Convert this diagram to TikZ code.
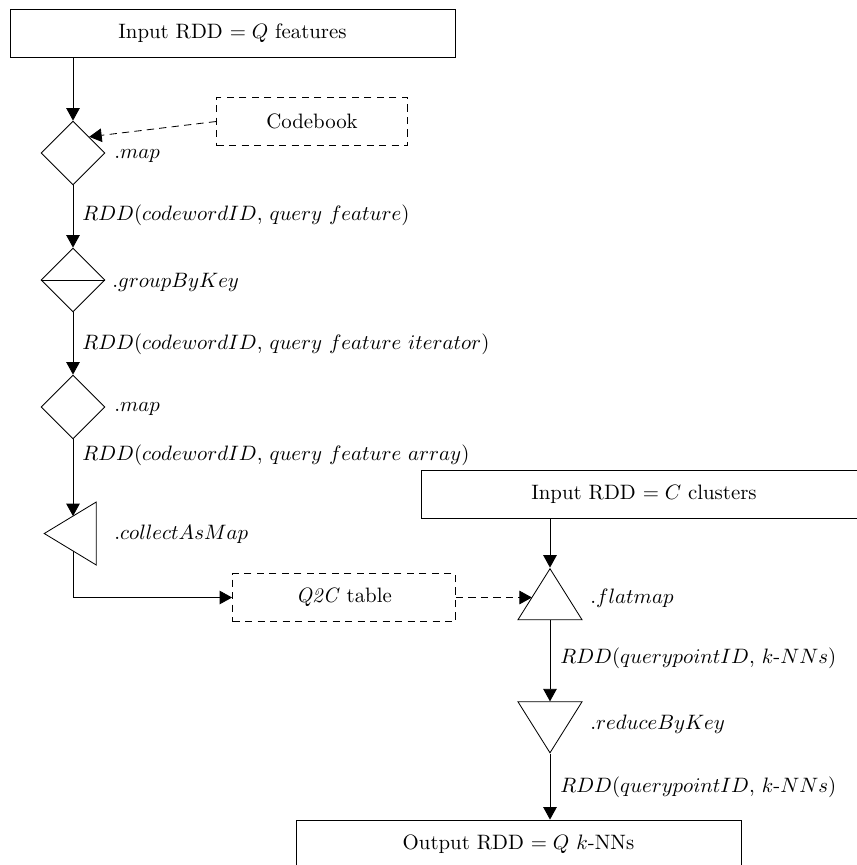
\documentclass[tikz,border=0pt]{standalone}
\usetikzlibrary{shapes.geometric,arrows.meta,intersections}
\newcommand{\pxu}{0.48pt}
\begin{document}
\begin{tikzpicture}[x=0.48pt,y=-0.48pt,
  box/.style={draw, minimum width=445*\pxu, minimum height=48*\pxu, inner sep=0},
  dbox/.style={draw, dash pattern=on 3.5pt off 2.5pt, minimum height=48*\pxu, inner sep=0},
  op/.style={draw, diamond, aspect=1, minimum width=64*\pxu, minimum height=64*\pxu, inner sep=0},
  tri/.style={draw, isosceles triangle, isosceles triangle stretches, minimum width=64*\pxu, minimum height=51*\pxu, inner sep=0},
  lbl/.style={anchor=west, inner sep=0},
  arr/.style={-{Triangle[length=6pt,width=6.5pt]}},
  darr/.style={arr, dash pattern=on 3.5pt off 2.5pt}]
\clip (0,0) rectangle (857,865);
\node[box] (in) at (232.5,33.5) {Input RDD $= Q$ features};
\node[dbox, minimum width=191*\pxu] (cb) at (312,121.5) {Codebook};
\node[op] (m1) at (73,153) {};
\node[op] (g) at (73,280) {};
\draw (g.west) -- (g.east);
\node[op] (m2) at (73,407) {};
\node[tri, shape border rotate=180, minimum width=63*\pxu, minimum height=52*\pxu, name path=cbord] (c) at (78.5,533.5) {};
\node[dbox, minimum width=223*\pxu] (q) at (344,597.5) {\textit{Q2C} table};
\node[box] (cin) at (644,494) {Input RDD $= C$ clusters};
\node[tri, shape border rotate=90, name path=fbord] (f) at (550,602) {};
\node[tri, shape border rotate=270] (r) at (550,719.5) {};
\node[box] (out) at (518.5,844) {Output RDD $= Q$ $k$-NNs};
\node[lbl] (l1) at (114,156) {$.map$};
\node[lbl] (l2) at (82,215) {$RDD(codewordID$, $query\ feature)$};
\node[lbl] (l3) at (112,282) {$.groupByKey$};
\node[lbl] (l4) at (82,344) {$RDD(codewordID$, $query\ feature\ iterator)$};
\node[lbl] (l5) at (114,409) {$.map$};
\node[lbl] (l6) at (82,455) {$RDD(codewordID$, $query\ feature\ array)$};
\node[lbl] (l7) at (114,534) {$.collectAsMap$};
\node[lbl] (l8) at (590,598) {$.flatmap$};
\node[lbl] (l9) at (560,658) {$RDD(querypointID$, $k$-$NNs)$};
\node[lbl] (l10) at (590,724) {$.reduceByKey$};
\node[lbl] (l11) at (560,787) {$RDD(querypointID$, $k$-$NNs)$};
\path[name path=vline] (m2.south) -- ++(0,250);
\path[name path=hline] (q.east) -- ++(150,0);
\path[name intersections={of=vline and cbord, sort by=vline, by={ct,cbt}}];
\path[name intersections={of=hline and fbord, by={fl}}];
\draw[arr] (in.south -| m1.north) -- (m1.north);
\draw[darr] (cb.west) -- (m1.north east);
\draw[arr] (m1.south) -- (g.north);
\draw[arr] (g.south) -- (m2.north);
\draw[arr] (m2.south) -- (ct);
\draw[arr] (cbt) |- (q.west);
\draw[darr] (q.east) -- (fl);
\draw[arr] (cin.south -| f.apex) -- (f.apex);
\draw[arr] (f) -- (r);
\draw[arr] (r.apex) -- (r.apex |- out.north);
\end{tikzpicture}
\end{document}
